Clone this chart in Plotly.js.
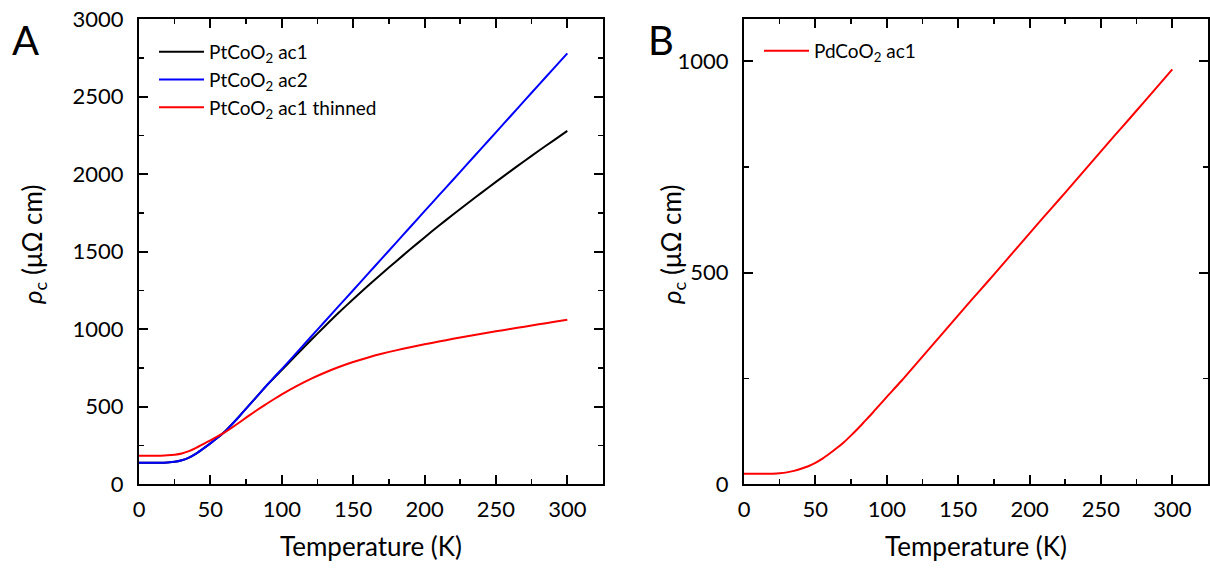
<!DOCTYPE html>
<html>
<head>
<meta charset="utf-8">
<script src="https://cdn.plot.ly/plotly-3.0.1.min.js"></script>
<style>html,body{margin:0;padding:0;background:#fff;}#chart{width:1210px;height:570px;}</style>
</head>
<body>
<div id="chart"></div>
<script>
// Panel A: PtCoO2 samples (temperature in K, resistivity in µΩ cm)
const tempA = [0, 5, 10, 15, 20, 25, 30, 35, 40, 45, 50, 55, 60, 65, 70, 75, 80, 85, 90, 95, 100,
               110, 120, 130, 140, 150, 160, 170, 180, 190, 200, 210, 220, 230, 240, 250, 260, 270, 280, 290, 300];
const ptAc1 = [137, 137, 137, 137, 139, 143, 153, 170, 196, 228, 262, 298, 337, 384, 434, 486, 538, 590, 641, 689, 735,
               830, 924, 1016, 1106, 1192, 1276, 1357, 1436, 1514, 1591, 1666, 1739, 1810, 1880, 1949, 2017, 2084, 2150, 2214, 2278];
const ptAc2 = [137, 137, 137, 137, 139, 143, 153, 170, 196, 228, 262, 298, 337, 384, 434, 486, 538, 590, 642, 692, 741,
               843, 945, 1047, 1149, 1250, 1352, 1454, 1556, 1658, 1760, 1862, 1963, 2065, 2167, 2269, 2371, 2473, 2575, 2677, 2778];
const ptAc1Thinned = [182, 182, 182, 183, 185, 189, 197, 212, 233, 258, 282, 307, 333, 363, 395, 428, 460, 491, 521, 550, 578,
                      630, 677, 718, 755, 787, 815, 840, 862, 882, 901, 919, 937, 953, 969, 985, 1000, 1015, 1030, 1045, 1060];

// Panel B: PdCoO2 sample
const tempB = [0, 5, 10, 15, 20, 25, 30, 35, 40, 45, 50, 55, 60, 65, 70, 75, 80, 85, 90, 95, 100,
               110, 120, 130, 140, 150, 160, 170, 180, 190, 200, 210, 220, 230, 240, 250, 260, 270, 280, 290, 300];
const pdAc1 = [24, 24, 24, 24, 24.5, 25.5, 27.5, 31, 36, 42, 50, 60, 72, 85, 99, 115, 132, 150, 168, 187, 206,
               243, 282, 321, 360, 399, 438, 476, 515, 554, 593, 632, 670, 709, 748, 787, 826, 864, 903, 942, 981];

const xTickVals = [0, 50, 100, 150, 200, 250, 300];
const yTickValsA = [0, 500, 1000, 1500, 2000, 2500, 3000];
const yTickValsB = [0, 500, 1000];

const FONT = 'Lato, "DejaVu Sans", sans-serif';
const yTitle = '<i>ρ</i><sub>c</sub> (μΩ cm)';

const lineStyle = (c) => ({color: c, width: 2, shape: 'spline', smoothing: 0.6});
const traces = [
  {x: tempA, y: ptAc1, name: 'PtCoO<sub>2</sub> ac1', type: 'scatter', mode: 'lines',
   line: lineStyle('#000000'), xaxis: 'x', yaxis: 'y', legend: 'legend', legendgroup: 'a1'},
  {x: tempA, y: ptAc2, name: 'PtCoO<sub>2</sub> ac2', type: 'scatter', mode: 'lines',
   line: lineStyle('#0000ff'), xaxis: 'x', yaxis: 'y', legend: 'legend', legendgroup: 'a2'},
  {x: tempA, y: ptAc1Thinned, name: 'PtCoO<sub>2</sub> ac1 thinned', type: 'scatter', mode: 'lines',
   line: lineStyle('#ff0000'), xaxis: 'x', yaxis: 'y', legend: 'legend', legendgroup: 'a3'},
  {x: tempB, y: pdAc1, name: 'PdCoO<sub>2</sub> ac1', type: 'scatter', mode: 'lines',
   line: lineStyle('#ff0000'), xaxis: 'x2', yaxis: 'y2', legend: 'legend2'}
];

function xAxis(domain, anchor) {
  return {
    domain: domain, anchor: anchor, range: [0, 325],
    tickvals: xTickVals, ticks: 'inside', ticklen: 9, tickwidth: 2, tickcolor: '#000',
    minor: {dtick: 25, ticks: 'inside', ticklen: 5, tickwidth: 1.5, tickcolor: '#000'},
    showline: true, linecolor: '#000', linewidth: 2, mirror: 'allticks',
    showgrid: false, zeroline: false,
    tickfont: {family: FONT, size: 22, color: '#000'},
    ticklabelstandoff: 5,
    title: {text: 'Temperature (K)', font: {family: FONT, size: 26, color: '#000'}, standoff: 16}
  };
}
function yAxis(domain, anchor, range, tickvals) {
  return {
    domain: domain, anchor: anchor, range: range,
    tickvals: tickvals, ticks: 'inside', ticklen: 9, tickwidth: 2, tickcolor: '#000',
    minor: {dtick: 250, ticks: 'inside', ticklen: 5, tickwidth: 1.5, tickcolor: '#000'},
    showline: true, linecolor: '#000', linewidth: 2, mirror: 'allticks',
    showgrid: false, zeroline: false,
    tickfont: {family: FONT, size: 22, color: '#000'},
    ticklabelstandoff: 9
  };
}

const yDom = [1 - 484/570, 1 - 19/570];
const yMid = 1 - 245/570;
const layout = {
  width: 1210, height: 570,
  margin: {l: 0, r: 0, t: 0, b: 0},
  paper_bgcolor: '#fff', plot_bgcolor: '#fff',
  showlegend: true,
  xaxis: xAxis([139/1210, 603/1210], 'y'),
  yaxis: yAxis(yDom, 'x', [0, 3000], yTickValsA),
  xaxis2: xAxis([744/1210, 1208/1210], 'y2'),
  yaxis2: yAxis(yDom, 'x2', [0, 1100], yTickValsB),
  legend: {x: 154/1210, y: 1 - 33/570, xanchor: 'left', yanchor: 'top', bgcolor: 'rgba(0,0,0,0)',
           traceorder: 'grouped', tracegroupgap: 0, itemwidth: 45,
           font: {family: FONT, size: 19, color: '#000'}},
  legend2: {x: 759/1210, y: 1 - 32/570, xanchor: 'left', yanchor: 'top', bgcolor: 'rgba(0,0,0,0)',
            itemwidth: 45,
            font: {family: FONT, size: 19, color: '#000'}},
  annotations: [
    {text: 'A', xref: 'paper', yref: 'paper', x: 25/1210, y: 1 - 40/570, xanchor: 'center', yanchor: 'middle',
     showarrow: false, font: {family: FONT, size: 40, color: '#000'}},
    {text: 'B', xref: 'paper', yref: 'paper', x: 661/1210, y: 1 - 40/570, xanchor: 'center', yanchor: 'middle',
     showarrow: false, font: {family: FONT, size: 40, color: '#000'}},
    {text: yTitle, xref: 'paper', yref: 'paper', x: 33/1210, y: yMid, xanchor: 'center', yanchor: 'middle',
     textangle: -90, showarrow: false, font: {family: FONT, size: 26, color: '#000'}},
    {text: yTitle, xref: 'paper', yref: 'paper', x: 672/1210, y: yMid, xanchor: 'center', yanchor: 'middle',
     textangle: -90, showarrow: false, font: {family: FONT, size: 26, color: '#000'}}
  ]
};

Plotly.newPlot('chart', traces, layout, {displayModeBar: false, staticPlot: true});
</script>
</body>
</html>
